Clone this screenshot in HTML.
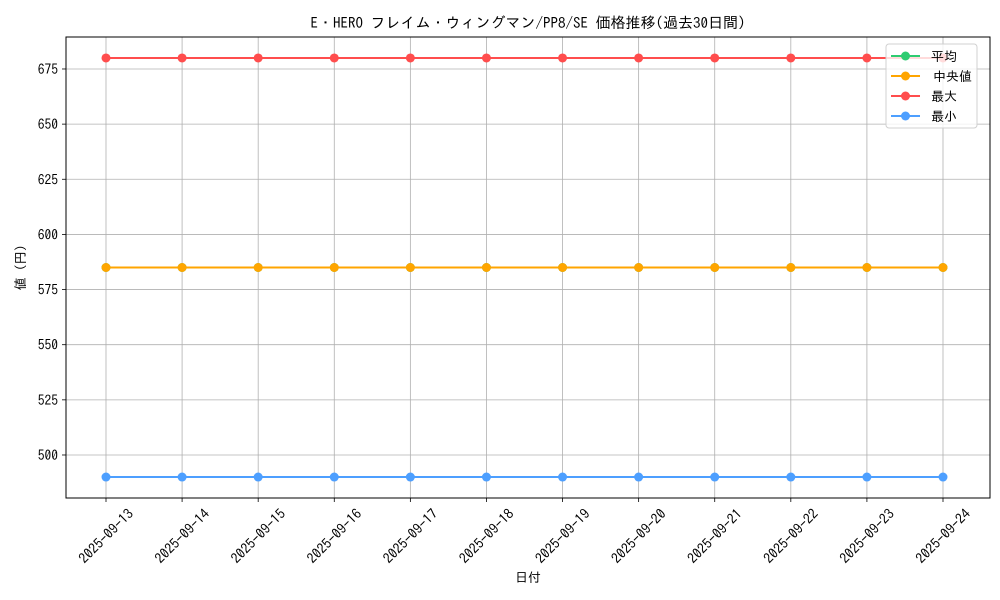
<!DOCTYPE html>
<html><head><meta charset="utf-8"><style>
body{margin:0;background:#fff}
svg{display:block;font-family:"IPAGothic","Liberation Sans","Noto Sans CJK JP",sans-serif}
</style></head><body>
<svg id="c" width="1000" height="600"></svg>
<script>
const categories=["2025-09-13","2025-09-14","2025-09-15","2025-09-16","2025-09-17","2025-09-18","2025-09-19","2025-09-20","2025-09-21","2025-09-22","2025-09-23","2025-09-24"];
const avgValues=[585,585,585,585,585,585,585,585,585,585,585,585];
const medianValues=[585,585,585,585,585,585,585,585,585,585,585,585];
const maxValues=[680,680,680,680,680,680,680,680,680,680,680,680];
const minValues=[490,490,490,490,490,490,490,490,490,490,490,490];
const yTicks=[500,525,550,575,600,625,650,675];
const seriesNames=["平均","中央値","最大","最小"];
const NS="http://www.w3.org/2000/svg";
const svg=document.getElementById("c");
const L=66,R=990,T=37,B=498;
const yMin=480.5,yMax=689.5;
const x=i=>106+i*(943-106)/(categories.length-1);
const y=v=>B-(v-yMin)/(yMax-yMin)*(B-T);
function mk(tag,attrs,parent){const e=document.createElementNS(NS,tag);for(const k in attrs)e.setAttribute(k,attrs[k]);(parent||svg).appendChild(e);return e;}
let t=mk("text",{x:528,y:28,"text-anchor":"middle","font-size":15,fill:"#000"});


t.textContent="E・HERO フレイム・ウィングマン/PP8/SE 価格推移(過去30日間)";
yTicks.forEach(v=>{
 const g=mk("line",{x1:L,x2:R,y1:y(v),y2:y(v),stroke:"#b0b0b0","stroke-width":0.8});
 
 
 mk("line",{x1:L-4,x2:L,y1:y(v),y2:y(v),stroke:"#000","stroke-width":0.8});
 const lb=mk("text",{x:L-8,y:y(v)+5,"text-anchor":"end","font-size":13.5,fill:"#000"});
 
 
 lb.textContent=v;
});
categories.forEach((c,i)=>{
 const g=mk("line",{x1:x(i),x2:x(i),y1:T,y2:B,stroke:"#b0b0b0","stroke-width":0.8});
 
 
 mk("line",{x1:x(i),x2:x(i),y1:B,y2:B+4,stroke:"#000","stroke-width":0.8});
 const cy=536;
 const lb=mk("text",{x:x(i),y:cy+5,"text-anchor":"middle","font-size":14,fill:"#000",transform:`rotate(-45 ${x(i)} ${cy})`});
 
 
 lb.textContent=c;
});
const colors=["#2ecc71","#ffa500","#ff4d4d","#4d9fff"];
[avgValues,medianValues,maxValues,minValues].forEach((vals,s)=>{
 const pts=vals.map((v,i)=>x(i)+","+y(v)).join(" ");
 const pl=mk("polyline",{points:pts,fill:"none",stroke:colors[s],"stroke-width":2});
 
 
 vals.forEach((v,i)=>{
  const p=mk("circle",{cx:x(i),cy:y(v),r:4.5,fill:colors[s]});
  
  
 });
});
const fr=mk("rect",{x:L,y:T,width:R-L,height:B-T,fill:"none",stroke:"#000","stroke-width":1});


let xt=mk("text",{x:(L+R)/2,y:582,"text-anchor":"middle","font-size":13});


xt.textContent="日付";
let yt=mk("text",{x:25,y:(T+B)/2,"text-anchor":"middle","font-size":13,transform:`rotate(-90 25 ${(T+B)/2})`});


yt.textContent="値 (円)";
const lg=mk("g",{});


mk("rect",{x:886,y:44,width:91,height:84,rx:3,fill:"#fff","fill-opacity":0.8,stroke:"#d0d0d0"},lg);
seriesNames.forEach((n,s)=>{
 const yy=56+s*20;
 const e=mk("g",{},lg);
 
 
 mk("line",{x1:891,x2:920,y1:yy,y2:yy,stroke:colors[s],"stroke-width":2},e);
 mk("circle",{cx:905.5,cy:yy,r:4.5,fill:colors[s]},e);
 const tx=mk("text",{x:s==1?933:931,y:yy+5,"font-size":13},e);
 tx.textContent=n;
});
</script>
</body></html>
